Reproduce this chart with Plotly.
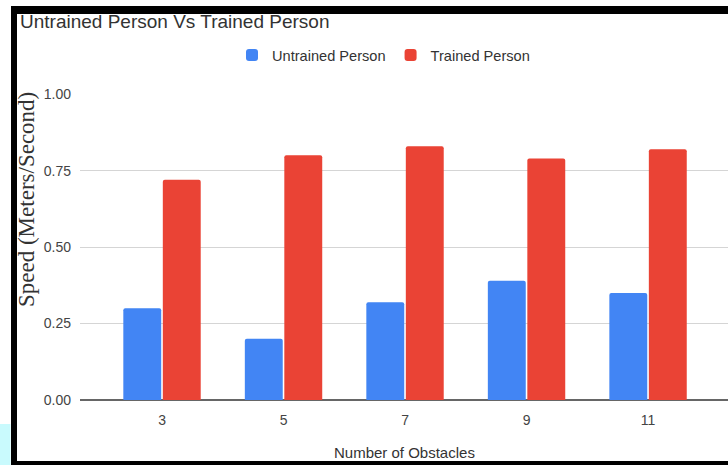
import plotly.graph_objects as go

categories = ["3", "5", "7", "9", "11"]
untrained = [0.30, 0.20, 0.32, 0.39, 0.35]
trained = [0.72, 0.80, 0.83, 0.79, 0.82]
y_ticks = [0, 0.25, 0.5, 0.75, 1.0]
y_tick_labels = ["0.00", "0.25", "0.50", "0.75", "1.00"]

W, H = 728, 465
L, R, T, B = 80, 0, 94, 65
PW = W - L - R
PH = H - T - B


def px_x(p):
    return (p - L) / PW


def px_y(p):
    return (H - B - p) / PH


fig = go.Figure()
fig.add_trace(go.Bar(x=categories, y=untrained, name="Untrained Person",
                     marker=dict(color="#4285F4", cornerradius=2, line=dict(width=0))))
fig.add_trace(go.Bar(x=categories, y=trained, name="Trained Person",
                     marker=dict(color="#EA4335", cornerradius=2, line=dict(width=0))))

shapes = [
    # black frame bands
    dict(type="rect", xref="paper", yref="paper", x0=px_x(11), x1=px_x(W + 5),
         y0=px_y(14), y1=px_y(6), fillcolor="black", line=dict(width=0), layer="above"),
    dict(type="rect", xref="paper", yref="paper", x0=px_x(11), x1=px_x(17),
         y0=px_y(H + 5), y1=px_y(6), fillcolor="black", line=dict(width=0), layer="above"),
    dict(type="rect", xref="paper", yref="paper", x0=px_x(11), x1=px_x(W + 5),
         y0=px_y(H + 5), y1=px_y(461), fillcolor="black", line=dict(width=0), layer="above"),
    dict(type="rect", xref="paper", yref="paper", x0=px_x(-2), x1=px_x(10.5),
         y0=px_y(H + 5), y1=px_y(424), fillcolor="#c9fafd", line=dict(width=0), layer="above"),
]

annotations = [
    dict(text="Untrained Person Vs Trained Person", xref="paper", yref="paper",
         x=px_x(18), y=px_y(22), xanchor="left", yanchor="middle", showarrow=False,
         font=dict(family="Arial, Liberation Sans", size=19, color="#333333")),
    dict(text="Speed (Meters/Second)", xref="paper", yref="paper",
         x=px_x(26), y=px_y(200), xanchor="center", yanchor="middle", showarrow=False,
         textangle=-90,
         font=dict(family="Liberation Serif, Times New Roman", size=23, color="#333333")),
    dict(text="Number of Obstacles", xref="paper", yref="paper",
         x=px_x(404), y=px_y(452), xanchor="center", yanchor="middle", showarrow=False,
         font=dict(family="Arial, Liberation Sans", size=15, color="#333333")),
]

fig.update_layout(
    width=W, height=H, autosize=False,
    margin=dict(l=L, r=R, t=T, b=B, pad=0),
    paper_bgcolor="white", plot_bgcolor="white",
    barmode="group", bargap=0.35, bargroupgap=0.04,
    showlegend=True,
    legend=dict(orientation="h", x=px_x(232), y=px_y(55), xanchor="left", yanchor="middle",
                font=dict(family="Arial, Liberation Sans", size=14.6, color="#333333"),
                bgcolor="rgba(0,0,0,0)", itemclick=False),
    xaxis=dict(type="category", range=[-0.675, 4.658], showgrid=False, zeroline=False,
               showline=False, ticks="", ticklabelstandoff=10,
               tickfont=dict(family="Arial, Liberation Sans", size=14, color="#444444")),
    yaxis=dict(range=[0, 1.0005], tickvals=y_ticks, ticktext=y_tick_labels,
               showgrid=True, gridcolor="#d5d5d5", gridwidth=1,
               zeroline=True, zerolinecolor="#666666", zerolinewidth=2,
               showline=False, ticks="", ticklabelstandoff=8,
               tickfont=dict(family="Arial, Liberation Sans", size=14, color="#444444")),
    shapes=shapes,
    annotations=annotations,
)

fig.write_html("out.html", config={"displayModeBar": False},
               post_script="document.body.style.margin='0';document.body.style.overflow='hidden';")
